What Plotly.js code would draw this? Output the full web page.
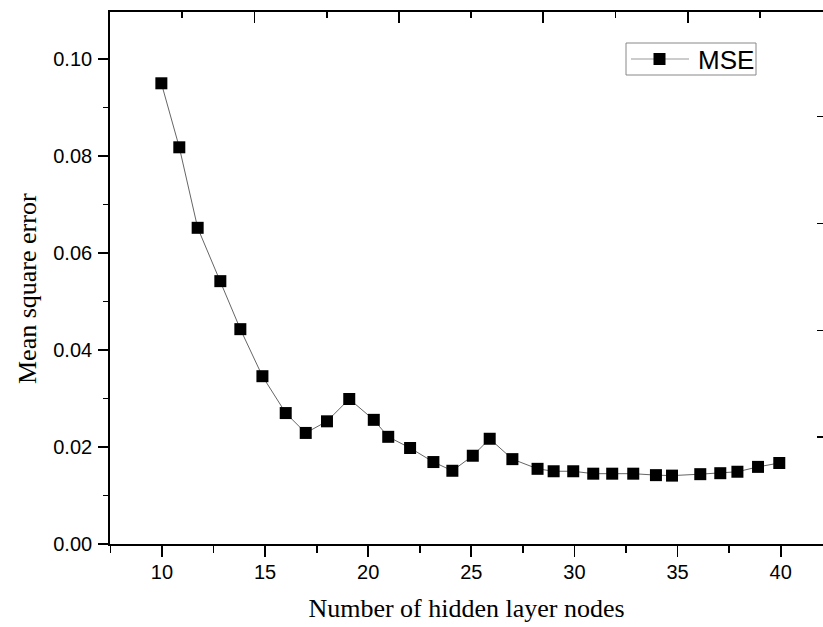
<!DOCTYPE html>
<html>
<head>
<meta charset="utf-8">
<script src="https://cdn.plot.ly/plotly-3.0.1.min.js"></script>
<style>html,body{margin:0;padding:0;background:#fff;overflow:hidden;}</style>
</head>
<body>
<div id="chart" style="width:823px;height:627px;"></div>
<script>
// Number of hidden layer nodes
const nodes = [9.97, 10.84, 11.73, 12.83, 13.80, 14.87, 16.00, 16.97, 18.00, 19.08,
               20.27, 20.97, 22.03, 23.16, 24.08, 25.07, 25.89, 26.99, 28.21, 28.99,
               29.94, 30.91, 31.83, 32.85, 33.95, 34.73, 36.10, 37.07, 37.90, 38.90, 39.93];
// Mean square error
const mse = [0.0950, 0.0818, 0.0652, 0.0542, 0.0443, 0.0346, 0.0270, 0.0229, 0.0253, 0.0299,
             0.0256, 0.0221, 0.0198, 0.0169, 0.0151, 0.0182, 0.0217, 0.0175, 0.0155, 0.0150,
             0.0150, 0.0145, 0.0145, 0.0145, 0.0142, 0.0141, 0.0144, 0.0146, 0.0149, 0.0159, 0.0167];
const seriesName = "MSE";
const xTitle = "Number of hidden layer nodes";
const yTitle = "Mean square error";

const W = 823, H = 627;
const M = {l: 110, r: 0, t: 12, b: 83};
const PW = W - M.l - M.r, PH = H - M.t - M.b;
const px = v => (v - M.l) / PW;          // pixel x -> paper x
const py = v => 1 - (v - M.t) / PH;       // pixel y -> paper y

const axisFont = {family: "Liberation Sans, Arial, sans-serif", size: 20, color: "#000"};
const titleFont = {family: "Liberation Serif, Times New Roman, serif", size: 26, color: "#000"};
const lineColor = "#666";

const trace = {
  x: nodes, y: mse, name: seriesName, type: "scatter", mode: "lines+markers",
  line: {color: lineColor, width: 1},
  marker: {symbol: "square", size: 12, color: "#000", line: {width: 0}},
  xaxis: "x", yaxis: "y", showlegend: false
};
// empty helper trace so the top and right frame axes get drawn
const frame = {x: [], y: [], type: "scatter", mode: "markers", xaxis: "x2", yaxis: "y2",
               showlegend: false, hoverinfo: "skip"};

// legend (drawn as a boxed key in the upper right)
const legBox = {x0: 626, x1: 756, y0: 43, y1: 75};
const legMidY = 59;
const shapes = [
  {type: "rect", xref: "paper", yref: "paper", x0: px(legBox.x0), x1: px(legBox.x1),
   y0: py(legBox.y1), y1: py(legBox.y0), line: {color: "#888", width: 1}, fillcolor: "#fff", layer: "above"},
  {type: "line", xref: "paper", yref: "paper", x0: px(631), x1: px(689), y0: py(legMidY), y1: py(legMidY),
   line: {color: "#999", width: 1}, layer: "above"},
  {type: "rect", xref: "paper", yref: "paper", x0: px(653.5), x1: px(665.5), y0: py(legMidY + 6), y1: py(legMidY - 6),
   line: {width: 0}, fillcolor: "#000", layer: "above"}
];
const annotations = [
  {xref: "paper", yref: "paper", x: px(696), y: py(legMidY + 1), xanchor: "left", yanchor: "middle",
   text: seriesName, showarrow: false,
   font: {family: "Liberation Sans, Arial, sans-serif", size: 26, color: "#000"}},
  {xref: "paper", yref: "paper", x: px(27), y: py(289), xanchor: "center", yanchor: "middle",
   text: yTitle, textangle: -90, showarrow: false, font: titleFont}
];

const layout = {
  width: W, height: H,
  margin: {l: M.l, r: M.r, t: M.t, b: M.b, pad: 0},
  paper_bgcolor: "#fff", plot_bgcolor: "#fff",
  showlegend: false,
  shapes: shapes,
  annotations: annotations,
  xaxis: {
    range: [7.48, 42.05], tick0: 10, dtick: 5,
    showgrid: false, zeroline: false,
    showline: true, linecolor: "#000", linewidth: 1.8,
    ticks: "outside", ticklen: 11, tickwidth: 1.8, tickcolor: "#000",
    minor: {tick0: 10, dtick: 2.5, ticks: "outside", ticklen: 7, tickwidth: 1.8, tickcolor: "#000", showgrid: false},
    tickfont: axisFont, ticklabelstandoff: -2,
    title: {text: xTitle, font: titleFont, standoff: 17},
    automargin: false
  },
  yaxis: {
    range: [0, 0.1097], tick0: 0, dtick: 0.02, tickformat: ".2f",
    showgrid: false, zeroline: false,
    showline: true, linecolor: "#000", linewidth: 1.8,
    ticks: "outside", ticklen: 10, tickwidth: 1.8, tickcolor: "#000",
    minor: {tick0: 0, dtick: 0.01, ticks: "outside", ticklen: 5, tickwidth: 1.8, tickcolor: "#000", showgrid: false},
    tickfont: axisFont, ticklabelstandoff: 2,
    automargin: false
  },
  xaxis2: {
    overlaying: "x", side: "top", anchor: "y2",
    range: [0, 9.875], tick0: 0, dtick: 2,
    showgrid: false, zeroline: false, showticklabels: false,
    showline: true, linecolor: "#000", linewidth: 1.8,
    ticks: "inside", ticklen: 11, tickwidth: 1.8, tickcolor: "#000",
    minor: {tick0: 0, dtick: 1, ticks: "inside", ticklen: 6, tickwidth: 1.8, tickcolor: "#000", showgrid: false}
  },
  yaxis2: {
    overlaying: "y", side: "right", anchor: "x2",
    range: [0, 4.98], tick0: 0, dtick: 1,
    showgrid: false, zeroline: false, showticklabels: false,
    showline: false,
    ticks: "inside", ticklen: 6, tickwidth: 1.5, tickcolor: "#000"
  }
};

Plotly.newPlot("chart", [trace, frame], layout, {displayModeBar: false, staticPlot: true});
</script>
</body>
</html>
